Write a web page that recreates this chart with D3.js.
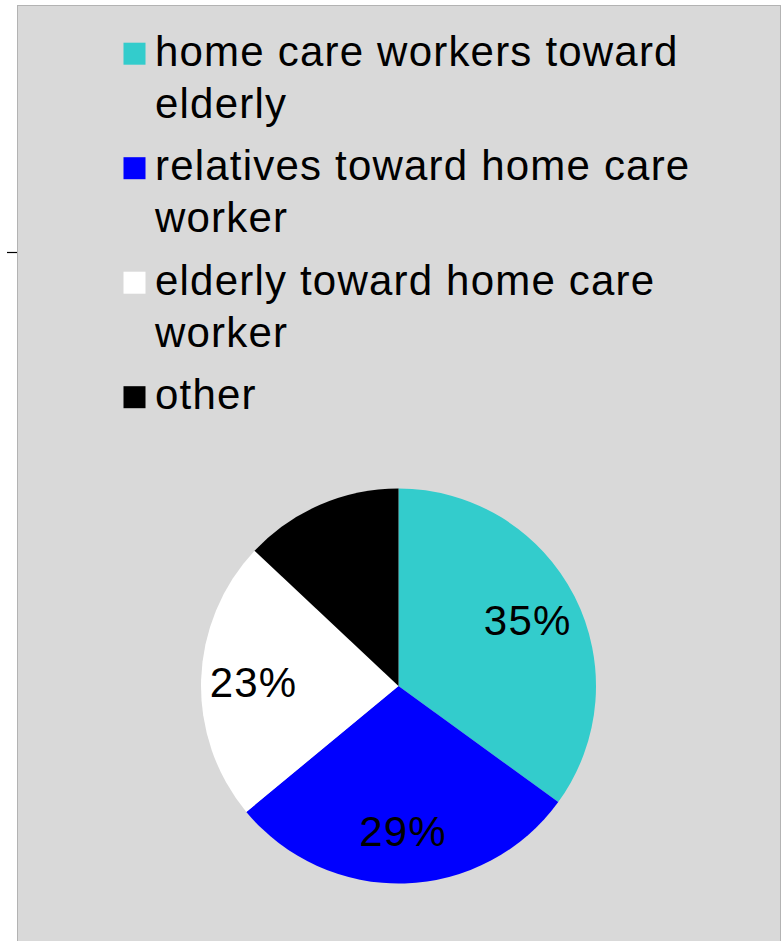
<!DOCTYPE html>
<html>
<head>
<meta charset="utf-8">
<style>
body { margin: 0; background: #ffffff; }
svg text { font-family: "Liberation Sans", Arial, sans-serif; fill: #000; letter-spacing: 1.2px; }
</style>
<script src="https://cdn.jsdelivr.net/npm/d3@7/dist/d3.min.js"></script>
</head>
<body>
<div id="chart"></div>
<script>
var categories = ["home care workers toward elderly",
                  "relatives toward home care worker",
                  "elderly toward home care worker",
                  "other"];
// legend text as it wraps in the picture
var legendLines = [["home care workers toward", "elderly"],
                   ["relatives toward home care", "worker"],
                   ["elderly toward home care", "worker"],
                   ["other"]];
var shares = [35, 29, 23, 13];
var shownLabels = ["35%", "29%", "23%", ""];
var sliceColors = ["#33cccc", "#0000ff", "#ffffff", "#000000"];

var W = 783, H = 941;
var cx = 398.5, cy = 686, R = 197.5;
var FONT = 42, LINE = 52;

var svg = d3.select("#chart").append("svg")
    .attr("width", W)
    .attr("height", H);

// plot panel
svg.append("rect")
    .attr("x", 17.5).attr("y", 5.5)
    .attr("width", 763).attr("height", 940)
    .attr("fill", "#d9d9d9")
    .attr("stroke", "#b3b3b3")
    .attr("stroke-width", 1);

// stray tick on the left edge
svg.append("line")
    .attr("x1", 7).attr("x2", 17)
    .attr("y1", 252.5).attr("y2", 252.5)
    .attr("stroke", "#000").attr("stroke-width", 1.2);

var color = d3.scaleOrdinal().domain(categories).range(sliceColors);

var pie = d3.pie().sort(null).value(function(d) { return d.v; });
var data = categories.map(function(c, i) { return {name: c, v: shares[i], label: shownLabels[i]}; });
var arcs = pie(data);

var arc = d3.arc().innerRadius(0).outerRadius(R);
var labelArc = d3.arc().innerRadius(145).outerRadius(145);

var g = svg.append("g").attr("transform", "translate(" + cx + "," + cy + ")");
g.selectAll("path")
    .data(arcs)
  .enter().append("path")
    .attr("d", arc)
    .attr("fill", function(d) { return color(d.data.name); });

g.selectAll("text.lab")
    .data(arcs)
  .enter().append("text")
    .attr("class", "lab")
    .attr("text-anchor", "middle")
    .attr("font-size", FONT + "px")
    .attr("x", function(d) { return labelArc.centroid(d)[0]; })
    .attr("y", function(d) { return labelArc.centroid(d)[1] + FONT * 0.36; })
    .text(function(d) { return d.data.label; });

// legend
var legend = svg.append("g");
var baseline = 65.7;
categories.forEach(function(c, i) {
    var item = legend.append("g");
    item.append("rect")
        .attr("x", 123.5).attr("y", baseline - 23)
        .attr("width", 22).attr("height", 22)
        .attr("fill", color(c));
    var t = item.append("text")
        .attr("x", 155)
        .attr("y", baseline)
        .attr("font-size", FONT + "px");
    legendLines[i].forEach(function(line, j) {
        t.append("tspan")
            .attr("x", 155)
            .attr("dy", j == 0 ? 0 : LINE)
            .text(line);
    });
    baseline += legendLines[i].length * LINE + 10.5;
});
</script>
</body>
</html>
